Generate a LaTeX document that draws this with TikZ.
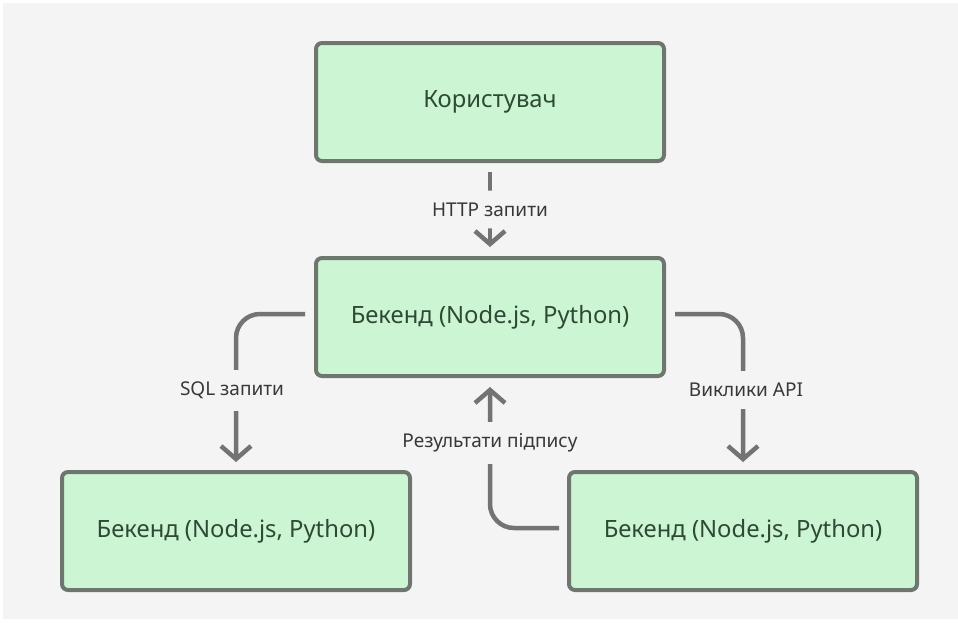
\documentclass[tikz,border=0pt]{standalone}
\usepackage{fontspec}
\setmainfont{Noto Sans}
\usetikzlibrary{arrows.meta}
\definecolor{bg}{HTML}{F4F4F4}
\definecolor{boxfill}{HTML}{CCF5D3}
\definecolor{boxline}{HTML}{6F766F}
\definecolor{boxtext}{HTML}{2E4A35}
\definecolor{conn}{HTML}{737373}
\definecolor{lbl}{HTML}{383838}
\tikzset{
  stepbox/.style={draw=boxline, line width=4pt, fill=boxfill, rounded corners=6pt,
    minimum width=348pt, minimum height=118pt, inner sep=0pt, text=boxtext,
    font=\fontsize{23.8}{28}\selectfont},
  conn/.style={draw=conn, line width=4.5pt, rounded corners=24pt,
    -{Straight Barb[length=13pt,width=30pt,line width=4.5pt]}},
  lab/.style={fill=bg, text=lbl, inner xsep=2pt, inner ysep=12pt,
    font=\fontsize{19}{22}\selectfont}
}
\begin{document}
\begin{tikzpicture}[x=1pt,y=-1pt]
\useasboundingbox (0,0) rectangle (958,622);
\fill[white] (0,0) rectangle (958,622);
\fill[bg] (3,3) rectangle (958,619);
\node[stepbox] (top) at (490,102) {Користувач};
\node[stepbox] (mid) at (490,317) {Бекенд (Node.js, Python)};
\node[stepbox] (bl) at (236,531) {Бекенд (Node.js, Python)};
\node[stepbox] (br) at (743,531) {Бекенд (Node.js, Python)};
% HTTP
\draw[conn, shorten <=9pt, shorten >=9pt] (top.south) -- node[lab] (l1) {HTTP запити} (mid.north);
% SQL
\coordinate (s1) at ([xshift=-9pt,yshift=3pt]mid.west);
\draw[conn, shorten >=8pt] (s1) -| (bl.north);
\node[lab] (l2) at (232,390) {SQL запити};
% API
\coordinate (a1) at ([xshift=9pt,yshift=3pt]mid.east);
\draw[conn, shorten >=8pt] (a1) -| (br.north);
\node[lab] (l3) at (746,390) {Виклики API};
% Results
\coordinate (r1) at ([xshift=-8pt,yshift=3pt]br.west);
\draw[conn, shorten >=9pt] (r1) -| (mid.south);
\node[lab] (l4) at (490,443) {Результати підпису};
\end{tikzpicture}
\end{document}
